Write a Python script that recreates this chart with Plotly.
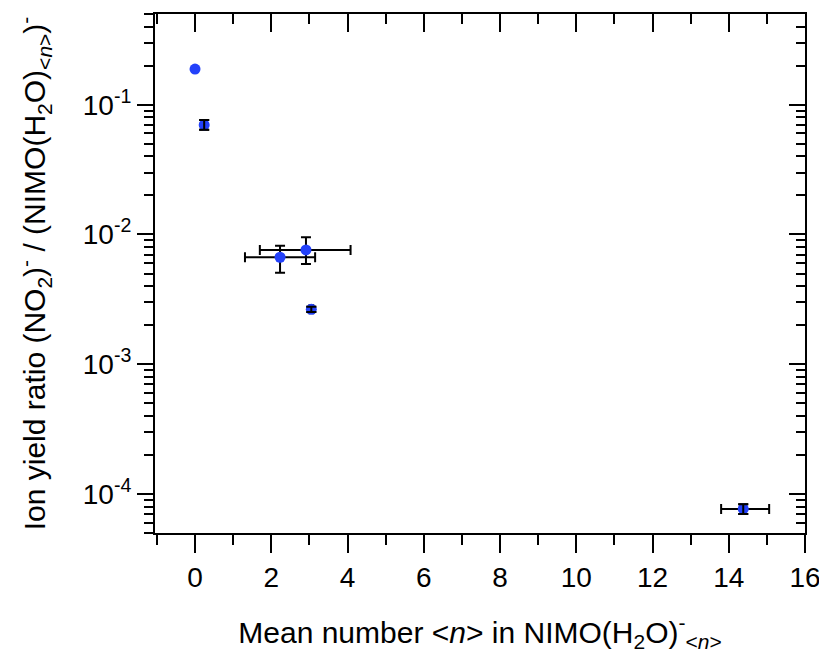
import plotly.graph_objects as go

# Mean number <n> of water molecules
n_mean = [0.0, 0.24, 2.23, 2.91, 3.05, 14.38]
n_err_minus = [0.0, 0.0, 0.92, 1.21, 0.05, 0.58]
n_err_plus = [0.0, 0.0, 0.92, 1.17, 0.05, 0.68]

# Ion yield ratio
ratio = [0.188, 0.0698, 0.00667, 0.00759, 0.00265, 7.66e-5]
ratio_err_plus = [0.0, 0.0064, 0.00152, 0.00192, 0.00012, 0.67e-5]
ratio_err_minus = [0.0, 0.0058, 0.00160, 0.00167, 0.00012, 0.64e-5]

y_tick_vals = [1e-4, 1e-3, 1e-2, 1e-1]
y_tick_text = ["10<sup>-4</sup>", "10<sup>-3</sup>", "10<sup>-2</sup>", "10<sup>-1</sup>"]
y_minor_vals = [m * 10.0 ** e for e in range(-5, 0) for m in range(2, 10)]

FONT = "Liberation Sans, Arial, sans-serif"
TF = dict(family=FONT, size=28, color="black")
TTF = dict(family=FONT, size=30, color="black")

def pick(arr, idx):
    return [arr[i] for i in idx]

with_err = [1, 2, 3, 4, 5]      # points that carry error bars
small_err = [1, 4, 5]           # points whose y error bars sit over the marker

fig = go.Figure()
# error bars beneath the markers
fig.add_trace(go.Scatter(
    x=pick(n_mean, with_err), y=pick(ratio, with_err), mode="markers",
    marker=dict(color="rgba(0,0,0,0)", size=11),
    error_x=dict(type="data", symmetric=False, array=pick(n_err_plus, with_err),
                 arrayminus=pick(n_err_minus, with_err), color="black", thickness=2, width=5),
    error_y=dict(type="data", symmetric=False, array=pick(ratio_err_plus, with_err),
                 arrayminus=pick(ratio_err_minus, with_err), color="black", thickness=2, width=5),
    showlegend=False, hoverinfo="skip",
))
fig.add_trace(go.Scatter(
    x=n_mean, y=ratio, mode="markers",
    marker=dict(color="rgb(35,65,250)", size=11),
    showlegend=False, hoverinfo="skip",
))
# short y error bars drawn over the markers
fig.add_trace(go.Scatter(
    x=pick(n_mean, small_err), y=pick(ratio, small_err), mode="markers",
    marker=dict(color="rgba(0,0,0,0)", size=11),
    error_y=dict(type="data", symmetric=False, array=pick(ratio_err_plus, small_err),
                 arrayminus=pick(ratio_err_minus, small_err), color="black", thickness=2, width=5),
    showlegend=False, hoverinfo="skip",
))
# empty helper trace for the mirrored (top/right) axes
fig.add_trace(go.Scatter(x=[], y=[], xaxis="x2", yaxis="y2", showlegend=False, hoverinfo="skip"))

xr = [-1.05, 16]
yr = [-4.301, -0.301]

fig.update_layout(
    width=819, height=652,
    margin=dict(l=147, r=22, t=6, b=127),
    paper_bgcolor="white", plot_bgcolor="white",
    font=TF,
    xaxis=dict(
        range=xr, tick0=0, dtick=2, ticks="outside", ticklen=18, tickwidth=2, tickcolor="black",
        showline=True, linewidth=2, linecolor="black", showgrid=False, zeroline=False, automargin=False,
        ticklabeloverflow="allow",
        minor=dict(dtick=1, tick0=0, ticks="outside", ticklen=10, tickwidth=2, tickcolor="black", showgrid=False),
        tickfont=TF,
        title=dict(text="Mean number &lt;<i>n</i>&gt; in NIMO(H<sub>2</sub>O)<sup>-</sup><sub>&lt;<i>n</i>&gt;</sub>",
                   font=TTF, standoff=30),
    ),
    yaxis=dict(
        type="log", range=yr, tickmode="array", tickvals=y_tick_vals, ticktext=y_tick_text,
        ticks="outside", ticklen=16, tickwidth=2, tickcolor="black",
        showline=True, linewidth=2, linecolor="black", showgrid=False, zeroline=False, automargin=False,
        ticklabeloverflow="allow",
        minor=dict(tickmode="array", tickvals=y_minor_vals, ticks="outside", ticklen=9, tickwidth=2,
                   tickcolor="black", showgrid=False),
        tickfont=TF,
        title=dict(text="Ion yield ratio (NO<sub>2</sub>)<sup>-</sup> / (NIMO(H<sub>2</sub>O)<sub>&lt;<i>n</i>&gt;</sub>)<sup>-</sup>",
                   font=TTF, standoff=28),
    ),
    xaxis2=dict(
        overlaying="x", side="top", range=xr, tick0=0, dtick=2, ticks="inside", ticklen=18,
        tickwidth=2, tickcolor="black", showline=True, linewidth=2, linecolor="black",
        showgrid=False, zeroline=False, showticklabels=False, automargin=False,
        minor=dict(dtick=1, tick0=0, ticks="inside", ticklen=10, tickwidth=2, tickcolor="black", showgrid=False),
    ),
    yaxis2=dict(
        overlaying="y", side="right", type="log", range=yr, tickmode="array", tickvals=y_tick_vals,
        ticks="inside", ticklen=16, tickwidth=2, tickcolor="black", showline=True, linewidth=2,
        linecolor="black", showgrid=False, zeroline=False, showticklabels=False, automargin=False,
        minor=dict(tickmode="array", tickvals=y_minor_vals, ticks="inside", ticklen=9, tickwidth=2,
                   tickcolor="black", showgrid=False),
    ),
)

fig.write_html("out.html")
